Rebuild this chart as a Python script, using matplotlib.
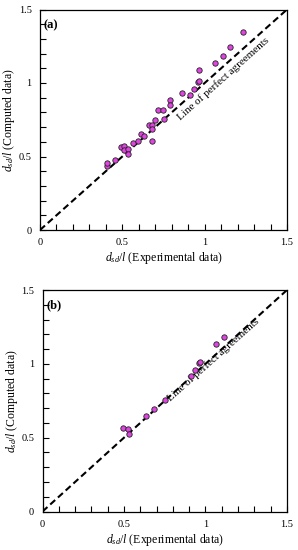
import numpy as np
from matplotlib import pyplot as plt
from matplotlib.ticker import MultipleLocator, FormatStrFormatter

plt.rcParams["font.family"] = ["Liberation Serif", "DejaVu Serif"]
plt.rcParams["mathtext.fontset"] = "custom"
plt.rcParams["mathtext.rm"] = "Liberation Serif"
plt.rcParams["mathtext.it"] = "Liberation Serif:italic"

# panel (a): experimental vs computed d_sd/l
exp_a = [0.406, 0.408, 0.455, 0.493, 0.513, 0.511, 0.534, 0.532, 0.566, 0.598,
         0.615, 0.633, 0.661, 0.681, 0.679, 0.683, 0.699, 0.716, 0.748, 0.756,
         0.790, 0.792, 0.865, 0.910, 0.934, 0.958, 0.966, 0.966, 1.063, 1.112,
         1.156, 1.233]
comp_a = [0.437, 0.458, 0.478, 0.564, 0.571, 0.542, 0.551, 0.519, 0.594, 0.603,
          0.655, 0.641, 0.712, 0.714, 0.603, 0.689, 0.748, 0.818, 0.813, 0.755,
          0.886, 0.852, 0.931, 0.918, 0.956, 1.004, 1.013, 1.090, 1.138, 1.183,
          1.242, 1.346]

# panel (b)
exp_b = [0.493, 0.527, 0.531, 0.632, 0.683, 0.754, 0.909, 0.934, 0.958, 0.967,
         1.063, 1.114]
comp_b = [0.568, 0.557, 0.523, 0.647, 0.693, 0.756, 0.920, 0.956, 1.004, 1.013,
          1.137, 1.182]

panels = [("(a)", exp_a, comp_a, (1.11, 1.03)),
          ("(b)", exp_b, comp_b, (1.05, 1.03))]

fig = plt.figure(figsize=(2.98, 5.5), dpi=100)
rects = [[40 / 298, 1 - 230 / 550, 247 / 298, 220.5 / 550],
         [42.5 / 298, 1 - 511.5 / 550, 244.5 / 298, 221.5 / 550]]

for rect, (tag, xs, ys, txt_pos) in zip(rects, panels):
    ax = fig.add_axes(rect)
    ax.plot([0, 1.5], [0, 1.5], ls=(0, (3.2, 1.8)), color="black", lw=1.5, zorder=1)
    ax.scatter(xs, ys, s=15, facecolor="#e044e0", edgecolor="#222222",
               linewidth=0.6, zorder=3)
    ax.set_xlim(0, 1.5)
    ax.set_ylim(0, 1.5)
    for axis in (ax.xaxis, ax.yaxis):
        axis.set_major_locator(MultipleLocator(0.5))
        axis.set_minor_locator(MultipleLocator(0.1))
        axis.set_major_formatter(FormatStrFormatter("%g"))
    ax.tick_params(which="both", direction="in", top=False, right=False,
                   labelsize=7.5, width=0.8, pad=6)
    ax.tick_params(which="major", length=4)
    ax.tick_params(which="minor", length=4)
    for sp in ax.spines.values():
        sp.set_linewidth(0.9)
    ax.set_xlabel(r"$d_{sd}/l$ (Experimental data)", fontsize=8.5, labelpad=2)
    ax.set_ylabel(r"$d_{sd}/l$ (Computed data)", fontsize=8.5, labelpad=1)
    ax.text(0.015, 0.93, tag, transform=ax.transAxes, fontsize=9,
            fontweight="bold", va="center", ha="left")
    ax.text(txt_pos[0], txt_pos[1], "Line of perfect agreements", fontsize=8,
            rotation=41.7, rotation_mode="anchor", ha="center", va="center",
            zorder=2)

fig.savefig("out.png", dpi=100)
